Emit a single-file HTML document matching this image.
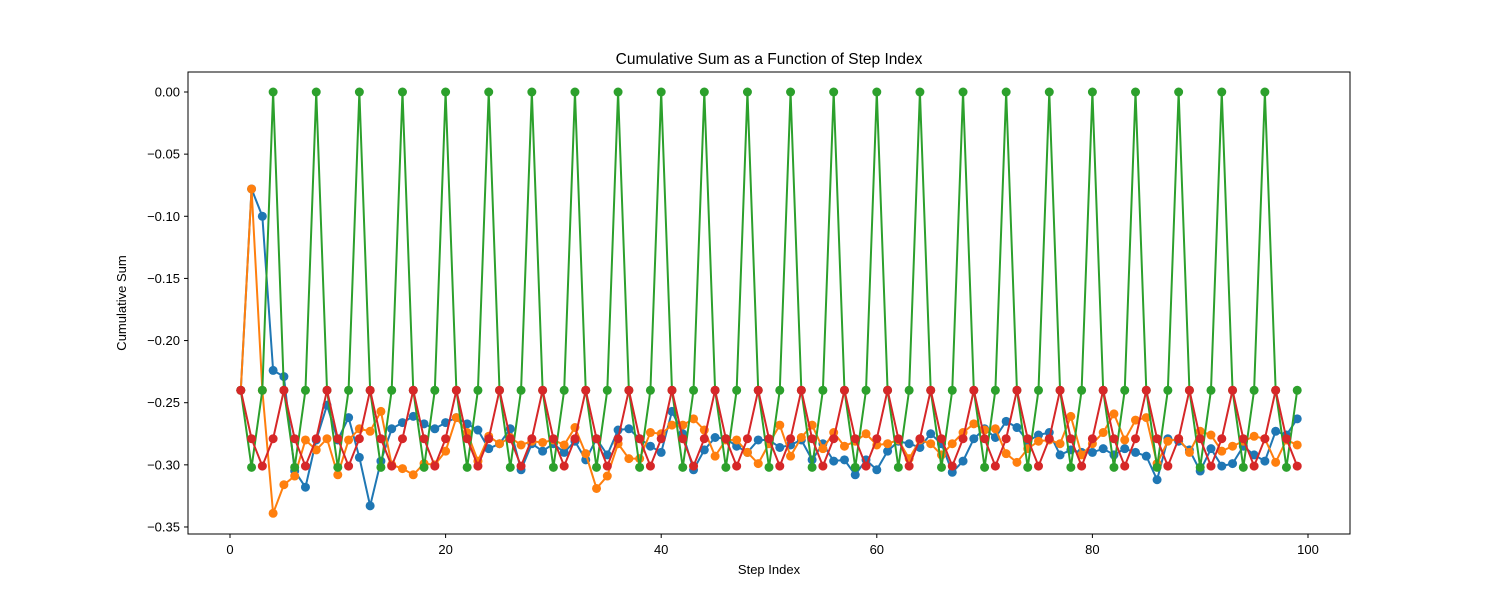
<!DOCTYPE html>
<html><head><meta charset="utf-8"><style>
html,body{margin:0;padding:0;background:#fff;}
svg{display:block;font-family:"Liberation Sans","DejaVu Sans",sans-serif;}
</style></head><body>
<svg id="chart" width="1500" height="600" xmlns="http://www.w3.org/2000/svg">
<rect width="1500" height="600" fill="#fff"/>
<text x="769" y="64" text-anchor="middle" font-size="15.5" fill="#000">Cumulative Sum as a Function of Step Index</text>
<text x="769" y="574" text-anchor="middle" font-size="13" fill="#000">Step Index</text>
<text transform="translate(126,303) rotate(-90)" text-anchor="middle" font-size="13" fill="#000">Cumulative Sum</text>
<g id="ticks"></g>
<g id="series"></g>
<rect x="188" y="72" width="1162" height="462" fill="none" stroke="#000" stroke-width="1"/>
</svg>
<script>
const xTicks=[0,20,40,60,80,100];
const yTicks=[0,-0.05,-0.10,-0.15,-0.20,-0.25,-0.30,-0.35];
const yTickLabels=["0.00","−0.05","−0.10","−0.15","−0.20","−0.25","−0.30","−0.35"];
const seriesNames=["series-blue","series-orange","series-green","series-red"];
const seriesBlue=[-0.24,-0.078,-0.10,-0.224,-0.229,-0.305,-0.318,-0.28,-0.252,-0.28,-0.262,-0.294,-0.333,-0.297,-0.271,-0.266,-0.261,-0.267,-0.271,-0.266,-0.262,-0.267,-0.272,-0.287,-0.283,-0.271,-0.304,-0.283,-0.289,-0.283,-0.29,-0.281,-0.296,-0.279,-0.292,-0.272,-0.271,-0.279,-0.285,-0.29,-0.257,-0.275,-0.304,-0.288,-0.278,-0.279,-0.285,-0.29,-0.28,-0.28,-0.286,-0.284,-0.28,-0.296,-0.283,-0.297,-0.296,-0.308,-0.296,-0.304,-0.289,-0.281,-0.283,-0.286,-0.275,-0.283,-0.306,-0.297,-0.279,-0.271,-0.278,-0.265,-0.27,-0.281,-0.276,-0.274,-0.292,-0.288,-0.29,-0.29,-0.287,-0.292,-0.287,-0.29,-0.293,-0.312,-0.279,-0.281,-0.288,-0.305,-0.287,-0.301,-0.299,-0.285,-0.292,-0.297,-0.273,-0.276,-0.263];
const seriesOrange=[-0.24,-0.078,-0.24,-0.339,-0.316,-0.309,-0.28,-0.288,-0.279,-0.308,-0.28,-0.271,-0.273,-0.257,-0.3,-0.303,-0.308,-0.299,-0.3,-0.289,-0.262,-0.274,-0.297,-0.277,-0.283,-0.278,-0.284,-0.281,-0.282,-0.28,-0.284,-0.27,-0.291,-0.319,-0.309,-0.283,-0.295,-0.295,-0.274,-0.275,-0.268,-0.268,-0.263,-0.272,-0.293,-0.28,-0.28,-0.29,-0.299,-0.283,-0.268,-0.293,-0.278,-0.268,-0.287,-0.274,-0.285,-0.281,-0.275,-0.284,-0.283,-0.28,-0.295,-0.28,-0.283,-0.292,-0.283,-0.274,-0.267,-0.272,-0.271,-0.291,-0.298,-0.287,-0.281,-0.28,-0.283,-0.261,-0.292,-0.283,-0.274,-0.259,-0.28,-0.264,-0.262,-0.299,-0.281,-0.279,-0.29,-0.273,-0.276,-0.289,-0.285,-0.281,-0.277,-0.279,-0.298,-0.28,-0.284];
const greenCycle=[-0.24,-0.302,-0.24,0.0];
const redCycle=[-0.24,-0.279,-0.301,-0.279];
const seriesGreen=[];const seriesRed=[];
for(let i=0;i<99;i++){seriesGreen.push(greenCycle[i%4]);seriesRed.push(redCycle[i%4]);}
const colors=["#1f77b4","#ff7f0e","#2ca02c","#d62728"];
const allSeries=[seriesBlue,seriesOrange,seriesGreen,seriesRed];
const NS="http://www.w3.org/2000/svg";
function xs(v){return 230+v*10.78;}
function ys(v){return 92-v*1242.8;}
const tg=document.getElementById('ticks');
xTicks.forEach(t=>{
  const l=document.createElementNS(NS,'line');
  l.setAttribute('x1',xs(t));l.setAttribute('x2',xs(t));l.setAttribute('y1',534);l.setAttribute('y2',538);l.setAttribute('stroke','#000');
  
  
  tg.appendChild(l);
  const tx=document.createElementNS(NS,'text');
  tx.setAttribute('x',xs(t));tx.setAttribute('y',554);tx.setAttribute('text-anchor','middle');tx.setAttribute('font-size','13');
  tx.textContent=t;
  
  
  tg.appendChild(tx);
});
yTicks.forEach((t,i)=>{
  const l=document.createElementNS(NS,'line');
  l.setAttribute('x1',184);l.setAttribute('x2',188);l.setAttribute('y1',ys(t));l.setAttribute('y2',ys(t));l.setAttribute('stroke','#000');
  
  
  tg.appendChild(l);
  const tx=document.createElementNS(NS,'text');
  tx.setAttribute('x',180);tx.setAttribute('y',ys(t)+4.5);tx.setAttribute('text-anchor','end');tx.setAttribute('font-size','13');
  tx.textContent=yTickLabels[i];
  
  
  tg.appendChild(tx);
});
const sg=document.getElementById('series');
allSeries.forEach((s,k)=>{
  const g=document.createElementNS(NS,'g');
  
  
  const p=document.createElementNS(NS,'polyline');
  p.setAttribute('points',s.map((v,i)=>xs(i+1)+','+ys(v)).join(' '));
  p.setAttribute('fill','none');p.setAttribute('stroke',colors[k]);p.setAttribute('stroke-width','2');
  
  
  g.appendChild(p);
  s.forEach((v,i)=>{
    const c=document.createElementNS(NS,'circle');
    c.setAttribute('cx',xs(i+1));c.setAttribute('cy',ys(v));c.setAttribute('r',4.5);c.setAttribute('fill',colors[k]);
    
    
    g.appendChild(c);
  });
  sg.appendChild(g);
});
</script>
</body></html>
